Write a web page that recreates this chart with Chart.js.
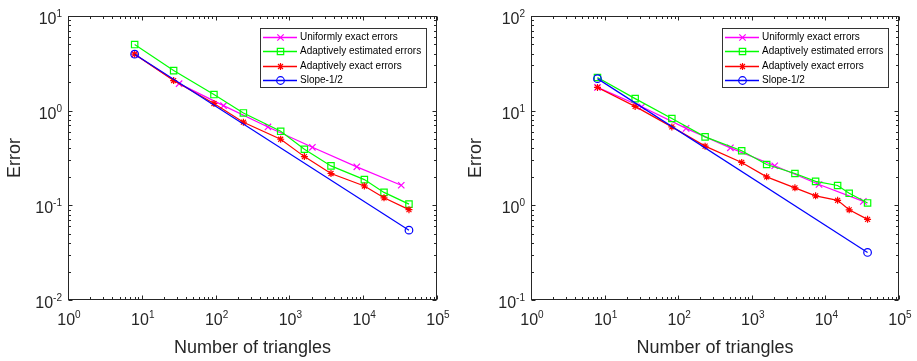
<!DOCTYPE html>
<html>
<head>
<meta charset="utf-8">
<script src="https://cdn.jsdelivr.net/npm/chart.js@4.4.1/dist/chart.umd.min.js"></script>
<style>
  html, body { margin: 0; padding: 0; background: #fff; }
  #wrap { position: relative; width: 917px; height: 361px; }
  canvas { position: absolute; top: 0; }
  #left { left: 0; }
  #right { left: 459px; }
</style>
</head>
<body>
<div id="wrap">
  <canvas id="left" width="459" height="361"></canvas>
  <canvas id="right" width="458" height="361"></canvas>
</div>
<script>
const seriesNames = [
  "Uniformly exact errors",
  "Adaptively estimated errors",
  "Adaptively exact errors",
  "Slope-1/2",
];

// tick labels are powers of ten, exponents only
const xExponents = [0, 1, 2, 3, 4, 5];
const leftYExponents = [-2, -1, 0, 1];
const rightYExponents = [-1, 0, 1, 2];

// left panel
const uniformTriangles = [8, 32, 128, 512, 2048, 8192, 32768];
const leftUniform = [3.95, 1.93, 1.13, 0.673, 0.41, 0.255, 0.163];
const leftAdaptTriangles = [8, 27, 95, 238, 762, 1596, 3660, 10370, 19140, 41700];
const leftEstimated = [4.99, 2.65, 1.48, 0.946, 0.605, 0.391, 0.261, 0.187, 0.137, 0.103];
const leftExact = [3.95, 2.08, 1.19, 0.755, 0.499, 0.327, 0.217, 0.16, 0.12, 0.09];
const leftSlopeTriangles = [8, 41700];
const leftSlope = [3.95, 0.0547];

// right panel
const rightUniform = [17.6, 11.0, 6.5, 4.05, 2.62, 1.66, 1.1];
const rightAdaptTriangles = [8, 26, 82, 232, 729, 1592, 3855, 7360, 14650, 21050, 37400];
const rightEstimated = [22.4, 13.4, 8.27, 5.29, 3.77, 2.7, 2.17, 1.79, 1.62, 1.34, 1.06];
const rightExact = [17.6, 11.1, 6.74, 4.22, 2.84, 2.0, 1.53, 1.26, 1.13, 0.897, 0.711];
const rightSlopeTriangles = [8, 37400];
const rightSlope = [21.8, 0.318];

const FONT = "'Liberation Sans', Arial, sans-serif";
const AXIS = "#262626";

const styles = [
  { color: "rgb(255,0,255)", pointStyle: "crossRot", radius: 4.5, order: 4 },
  { color: "rgb(0,255,0)", pointStyle: "rect", radius: 4.5, order: 3 },
  { color: "rgb(255,0,0)", pointStyle: "star", radius: 3.5, order: 2 },
  { color: "rgb(0,0,255)", pointStyle: "circle", radius: 3.8, order: 1 },
];

function toPoints(xs, ys) {
  return xs.map((x, i) => ({ x: x, y: ys[i] }));
}

// "10" with a small raised exponent, y is the baseline of "10"
function drawPow(ctx, x, y, exp, align) {
  ctx.font = `16px ${FONT}`;
  const wBase = ctx.measureText("10").width;
  ctx.font = `10px ${FONT}`;
  const wExp = ctx.measureText(String(exp)).width;
  const left = align === "right" ? x - wBase - wExp : x - (wBase + wExp) / 2;
  ctx.textAlign = "left";
  ctx.textBaseline = "alphabetic";
  ctx.font = `16px ${FONT}`;
  ctx.fillText("10", left, y);
  ctx.font = `10px ${FONT}`;
  ctx.fillText(String(exp), left + wBase, y - 7);
}

const matlabAxes = {
  id: "matlabAxes",
  afterDatasetsDraw(chart, args, opts) {
    const { ctx, chartArea: a, scales: { x, y } } = chart;
    const L = Math.round(a.left) + 0.5;
    const R = Math.round(a.right) - 0.5;
    const T = Math.round(a.top) + 0.5;
    const B = Math.round(a.bottom) - 0.5;
    ctx.save();
    ctx.strokeStyle = AXIS;
    ctx.lineWidth = 1;
    ctx.strokeRect(L, T, R - L, B - T);

    ctx.beginPath();
    opts.xExp.forEach((e) => {
      for (let m = 1; m < 10; m++) {
        const v = m * Math.pow(10, e);
        if (v > x.max * 1.0001) break;
        const px = Math.round(x.getPixelForValue(v)) + 0.5;
        const len = m === 1 ? 4 : 2.5;
        ctx.moveTo(px, B); ctx.lineTo(px, B - len);
        ctx.moveTo(px, T); ctx.lineTo(px, T + len);
      }
    });
    opts.yExp.forEach((e) => {
      for (let m = 1; m < 10; m++) {
        const v = m * Math.pow(10, e);
        if (v > y.max * 1.0001) break;
        const py = Math.round(y.getPixelForValue(v)) + 0.5;
        const len = m === 1 ? 4 : 2.5;
        ctx.moveTo(L, py); ctx.lineTo(L + len, py);
        ctx.moveTo(R, py); ctx.lineTo(R - len, py);
      }
    });
    ctx.stroke();

    ctx.fillStyle = AXIS;
    opts.xExp.forEach((e) => {
      drawPow(ctx, x.getPixelForValue(Math.pow(10, e)) + 1, a.bottom + 25, e, "center");
    });
    opts.yExp.forEach((e) => {
      drawPow(ctx, a.left - 6, y.getPixelForValue(Math.pow(10, e)) + 8, e, "right");
    });
    ctx.restore();
  },
};

const boxLegend = {
  id: "boxLegend",
  afterDraw(chart) {
    const { ctx, chartArea: a } = chart;
    const w = 166, h = 59;
    const bx = Math.round(a.right - 11 - w);
    const by = Math.round(a.top + 12);
    ctx.save();
    ctx.fillStyle = "#fff";
    ctx.fillRect(bx, by, w, h);
    ctx.strokeStyle = "#333";
    ctx.lineWidth = 1;
    ctx.strokeRect(bx + 0.5, by + 0.5, w, h);

    seriesNames.forEach((name, i) => {
      const cy = Math.round(by + 9 + i * 14.4) + 0.5;
      const st = styles[i];
      ctx.strokeStyle = st.color;
      ctx.fillStyle = "rgba(0,0,0,0)";
      ctx.lineWidth = 1.4;
      ctx.beginPath();
      ctx.moveTo(bx + 3, cy);
      ctx.lineTo(bx + 37, cy);
      ctx.stroke();
      ctx.lineWidth = 1.2;
      Chart.helpers.drawPoint(ctx, {
        pointStyle: st.pointStyle,
        radius: st.radius,
        borderWidth: 1.2,
        rotation: 0,
      }, bx + 20.5, cy);
      ctx.fillStyle = "#000";
      ctx.font = `10px ${FONT}`;
      ctx.textAlign = "left";
      ctx.textBaseline = "middle";
      ctx.fillText(name, bx + 40, cy);
    });
    ctx.restore();
  },
};

function makePanel(id, panel) {
  const datasets = panel.series.map((s, i) => ({
    label: seriesNames[i],
    data: toPoints(s[0], s[1]),
    showLine: true,
    borderColor: styles[i].color,
    backgroundColor: "rgba(0,0,0,0)",
    borderWidth: 1.2,
    pointStyle: styles[i].pointStyle,
    pointRadius: styles[i].radius,
    pointBorderWidth: 1.2,
    pointBorderColor: styles[i].color,
    pointBackgroundColor: "rgba(0,0,0,0)",
    order: styles[i].order,
  }));

  new Chart(document.getElementById(id), {
    type: "scatter",
    data: { datasets: datasets },
    options: {
      responsive: false,
      animation: false,
      layout: { padding: { left: panel.padLeft, right: panel.padRight, top: 16, bottom: 0 } },
      plugins: {
        legend: { display: false },
        tooltip: { enabled: false },
        matlabAxes: { xExp: xExponents, yExp: panel.yExp },
      },
      scales: {
        x: {
          type: "logarithmic",
          min: 1,
          max: 1e5,
          grid: { display: false },
          border: { display: false },
          ticks: { display: false },
          title: {
            display: true,
            text: "Number of triangles",
            color: AXIS,
            font: { family: FONT, size: 18 },
            padding: { top: 4, bottom: 2 },
          },
          afterFit: (scale) => { scale.height = 61; },
        },
        y: {
          type: "logarithmic",
          min: Math.pow(10, panel.yExp[0]),
          max: Math.pow(10, panel.yExp[panel.yExp.length - 1]),
          grid: { display: false },
          border: { display: false },
          ticks: { display: false },
          title: {
            display: true,
            text: "Error",
            color: AXIS,
            font: { family: FONT, size: 18 },
          },
          afterFit: (scale) => { scale.width = panel.yWidth; },
        },
      },
    },
    plugins: [matlabAxes, boxLegend],
  });
}

makePanel("left", {
  yExp: leftYExponents,
  padLeft: 0,
  padRight: 22,
  yWidth: 68,
  series: [
    [uniformTriangles, leftUniform],
    [leftAdaptTriangles, leftEstimated],
    [leftAdaptTriangles, leftExact],
    [leftSlopeTriangles, leftSlope],
  ],
});

makePanel("right", {
  yExp: rightYExponents,
  padLeft: 2,
  padRight: 18,
  yWidth: 70,
  series: [
    [uniformTriangles, rightUniform],
    [rightAdaptTriangles, rightEstimated],
    [rightAdaptTriangles, rightExact],
    [rightSlopeTriangles, rightSlope],
  ],
});
</script>
</body>
</html>
